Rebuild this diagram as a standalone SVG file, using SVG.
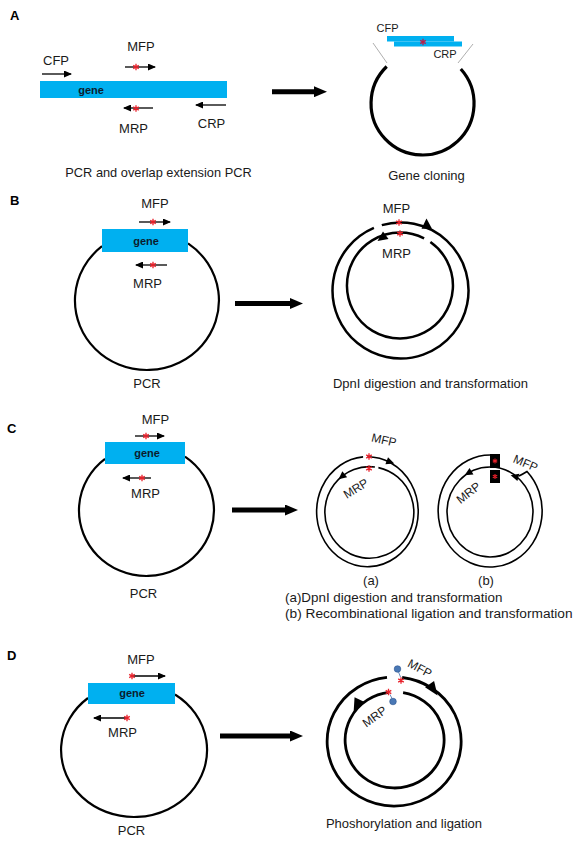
<svg xmlns="http://www.w3.org/2000/svg" width="579" height="842" viewBox="0 0 579 842">
<defs>
<style>
.t{font-family:"Liberation Sans",Arial,sans-serif;fill:#1a1a1a;font-size:13px}
.tc{text-anchor:middle}
.s11{font-size:11px}
.s12{font-size:12px}
.h{font-family:"Liberation Sans",Arial,sans-serif;font-weight:bold;font-size:13px;fill:#000}
.g{fill:#00b0f0}
.gt{font-family:"Liberation Sans",Arial,sans-serif;font-weight:bold;font-size:11px;fill:#0b1d2e;text-anchor:middle}
.ring{fill:none;stroke:#000}
.pr{stroke:#000;stroke-width:1.3;fill:none;marker-end:url(#ph)}
.mn{stroke:#000;stroke-width:5;marker-end:url(#mh)}
.dot{fill:#4a78b5;stroke:#2e5590;stroke-width:0.6}
.lnk{stroke:#6a8cc0;stroke-width:1}
</style>
<marker id="ph" markerUnits="userSpaceOnUse" markerWidth="8" markerHeight="7" refX="7" refY="3.5" orient="auto"><path d="M0,0L8,3.5L0,7z" fill="#000"/></marker>
<marker id="mh" markerUnits="userSpaceOnUse" markerWidth="13" markerHeight="11" refX="5" refY="5.5" orient="auto"><path d="M0,0L13,5.5L0,11z" fill="#000"/></marker>
<path id="st" d="M0,-3.2V3.2M-2.8,-1.6L2.8,1.6M-2.8,1.6L2.8,-1.6" stroke="#e8202a" stroke-width="1.3" fill="none"/>
<path id="st2" d="M0,-3.2V3.2M-2.8,-1.6L2.8,1.6M-2.8,1.6L2.8,-1.6" stroke="#b8204a" stroke-width="1.3" fill="none"/>
<path id="sts" d="M0,-2.6V2.6M-2.2,-1.3L2.2,1.3M-2.2,1.3L2.2,-1.3" stroke="#e8202a" stroke-width="1.1" fill="none"/>
<path id="tri" d="M4.5,0L-3.5,-3.8L-3.5,3.8z" fill="#000"/>
<path id="btri" d="M8,0L-6,-5.5L-6,5.5z" fill="#000"/>
</defs>
<rect width="579" height="842" fill="#fff"/>

<!-- Panel A -->
<g id="panelA">
  <text class="h" x="10" y="19.5">A</text>
  <g id="A-gene">
    <rect class="g" x="40" y="81" width="187" height="17"/>
    <text class="gt" x="91" y="93.5">gene</text>
  </g>
  <g id="A-CFP">
    <text class="t" x="43" y="64.5">CFP</text>
    <line class="pr" x1="42" y1="74" x2="71" y2="74"/>
  </g>
  <g id="A-MFP">
    <text class="t tc" x="141" y="51">MFP</text>
    <line class="pr" x1="125" y1="67" x2="155" y2="67"/>
    <use href="#st" x="136" y="67"/>
  </g>
  <g id="A-MRP">
    <line class="pr" x1="153" y1="108" x2="124" y2="108"/>
    <use href="#st" x="136" y="108.5"/>
    <text class="t tc" x="133.5" y="133">MRP</text>
  </g>
  <g id="A-CRP">
    <line class="pr" x1="226" y1="105" x2="196" y2="105"/>
    <text class="t tc" x="211.5" y="128">CRP</text>
  </g>
  <text class="t tc" x="158.5" y="176.5" style="font-size:12.8px">PCR and overlap extension PCR</text>
  <g id="A-clone">
    <path class="ring" stroke-width="3.2" d="M460.8,69 A51.5,51.5 0 1,1 386.7,66.5"/>
    <line x1="373" y1="43" x2="387" y2="63" stroke="#999" stroke-width="0.8"/>
    <line x1="473" y1="44" x2="458" y2="63" stroke="#999" stroke-width="0.8"/>
    <rect class="g" x="387" y="36" width="67" height="5.5"/>
    <rect class="g" x="394" y="41.5" width="68" height="5"/>
    <use href="#st2" x="423" y="42"/>
    <text class="t tc s11" x="387.5" y="32">CFP</text>
    <text class="t tc s11" x="445" y="58">CRP</text>
  </g>
  <text class="t tc" x="426.5" y="179.5">Gene cloning</text>
</g>

<!-- Panel B -->
<g id="panelB">
  <text class="h" x="10" y="205">B</text>
  <g id="B-plasmid">
    <path class="ring" stroke-width="2.2" d="M188,243.4 A72,69.5 0 1,1 102,246.2"/>
    <rect class="g" x="102" y="229" width="86" height="23"/>
    <text class="gt" x="146" y="244.5">gene</text>
  </g>
  <g id="B-MFP">
    <text class="t tc" x="155" y="208">MFP</text>
    <line class="pr" x1="139" y1="222" x2="170" y2="222"/>
    <use href="#st" x="153" y="222"/>
  </g>
  <g id="B-MRP">
    <line class="pr" x1="167" y1="265" x2="136" y2="265"/>
    <use href="#st" x="153" y="265"/>
    <text class="t tc" x="147.5" y="288">MRP</text>
  </g>
  <text class="t tc" x="147" y="388">PCR</text>
  <g id="B-product">
    <path class="ring" stroke-width="2.5" d="M381.8,225.1 A68,68 0 1,1 373.9,227.9"/>
    <path class="ring" stroke-width="2.5" d="M430.4,242.1 A53,53 0 1,1 424.1,238.3"/>
    <polygon points="421.5,228.8 426.5,218.5 432,228.8" fill="#000"/>
    <polygon points="377.5,241 383,231.5 388.5,239" fill="#000"/>
    <use href="#st" x="399" y="222.5"/>
    <use href="#st" x="400" y="233.5"/>
    <text class="t tc" x="396.5" y="212.5">MFP</text>
    <text class="t tc" x="396.5" y="258">MRP</text>
  </g>
  <text class="t tc" x="430.5" y="388">DpnI digestion and transformation</text>
</g>

<!-- Panel C -->
<g id="panelC">
  <text class="h" x="7" y="433">C</text>
  <g id="C-plasmid">
    <path class="ring" stroke-width="2.2" d="M185,456.7 A67.5,65.5 0 1,1 105,458.8"/>
    <rect class="g" x="105" y="442" width="80" height="22"/>
    <text class="gt" x="147" y="457">gene</text>
  </g>
  <g id="C-MFP">
    <text class="t tc" x="155.5" y="424">MFP</text>
    <line class="pr" x1="135" y1="436" x2="164" y2="436"/>
    <use href="#st" x="146" y="436"/>
  </g>
  <g id="C-MRP">
    <line class="pr" x1="151" y1="478" x2="123" y2="478"/>
    <use href="#st" x="142" y="478"/>
    <text class="t tc" x="145.5" y="498">MRP</text>
  </g>
  <text class="t tc" x="143.5" y="598">PCR</text>
  <g id="C-a">
    <path class="ring" stroke-width="1.6" d="M367.5,456.7 A50.8,55 0 1,1 363.1,456.9"/>
    <path class="ring" stroke-width="1.6" d="M378.4,467.6 A44.5,45.8 0 1,1 374.9,467"/>
    <use href="#tri" transform="translate(390,462) rotate(20)"/>
    <use href="#tri" transform="translate(342,476.5) rotate(141)"/>
    <use href="#st" x="369" y="456.5"/>
    <use href="#st" x="369" y="468.5"/>
    <text class="t tc s12" transform="translate(383,444) rotate(13)">MFP</text>
    <text class="t tc s12" transform="translate(358,492) rotate(-32)">MRP</text>
    <text class="t tc" x="371" y="585">(a)</text>
  </g>
  <g id="C-b">
    <path class="ring" stroke-width="1.6" d="M490,455 A52,56 0 1,0 527,471.5 Q523,474 519,476"/>
    <ellipse class="ring" stroke-width="1.6" cx="490" cy="512" rx="43" ry="45"/>
    <use href="#tri" transform="translate(515,476.5) rotate(-165)"/>
    <use href="#tri" transform="translate(468.5,473) rotate(149)"/>
    <rect x="490" y="454" width="10" height="14" fill="#000"/>
    <rect x="490" y="470" width="10" height="13" fill="#000"/>
    <use href="#sts" x="495" y="461"/>
    <use href="#sts" x="495" y="476.5"/>
    <text class="t tc s12" transform="translate(524,467) rotate(23)">MFP</text>
    <text class="t tc s12" transform="translate(471,496) rotate(-38)">MRP</text>
    <text class="t tc" x="486" y="585">(b)</text>
  </g>
  <text class="t" x="285" y="602" style="font-size:13.4px">(a)DpnI digestion and transformation</text>
  <text class="t" x="285" y="618" style="font-size:13.7px">(b) Recombinational ligation and transformation</text>
</g>

<!-- Panel D -->
<g id="panelD">
  <text class="h" x="7" y="660">D</text>
  <g id="D-plasmid">
    <path class="ring" stroke-width="2.2" d="M175,694.5 A73,67 0 1,1 88,698"/>
    <rect class="g" x="88" y="683" width="87" height="21"/>
    <text class="gt" x="132" y="697">gene</text>
  </g>
  <g id="D-MFP">
    <text class="t tc" x="141" y="664">MFP</text>
    <line class="pr" x1="132" y1="676" x2="165" y2="676"/>
    <use href="#st" x="132" y="676"/>
  </g>
  <g id="D-MRP">
    <line class="pr" x1="128" y1="718" x2="94" y2="718"/>
    <use href="#st" x="127" y="718"/>
    <text class="t tc" x="122.5" y="737">MRP</text>
  </g>
  <text class="t tc" x="131.5" y="835">PCR</text>
  <g id="D-product">
    <path class="ring" stroke-width="2.8" d="M402.2,677.5 A67,64.5 0 1,1 387,677.4"/>
    <path class="ring" stroke-width="2.8" d="M403.1,692.7 A49.5,48 0 1,1 389,692.3"/>
    <use href="#btri" transform="translate(433,689) rotate(55)"/>
    <use href="#btri" transform="translate(357,705) rotate(115)"/>
    <line class="lnk" x1="398.5" y1="672" x2="400.5" y2="677"/>
    <line class="lnk" x1="390" y1="694.5" x2="392" y2="698.5"/>
    <circle class="dot" cx="397.5" cy="669" r="3.3"/>
    <circle class="dot" cx="393" cy="701.5" r="3.3"/>
    <use href="#st" x="401" y="680.5"/>
    <use href="#st" x="388.5" y="692"/>
    <text class="t tc s12" transform="translate(418,672) rotate(28)">MFP</text>
    <text class="t tc s12" transform="translate(377,720) rotate(-36)">MRP</text>
  </g>
  <text class="t tc" x="404" y="828">Phoshorylation and ligation</text>
</g>

<!-- Connectors: process arrows -->
<g id="connectors">
  <line class="mn" x1="272" y1="91.7" x2="319" y2="91.7"/>
  <line class="mn" x1="235" y1="303.5" x2="295" y2="303.5"/>
  <line class="mn" x1="232" y1="510" x2="290" y2="510"/>
  <line class="mn" x1="220" y1="736" x2="295" y2="736"/>
</g>
</svg>
